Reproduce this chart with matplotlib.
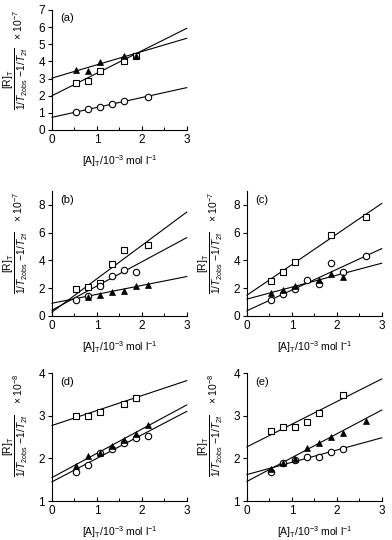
import matplotlib
matplotlib.use('Agg')
import matplotlib.pyplot as plt
import numpy as np
from matplotlib.ticker import MultipleLocator

plt.rcParams['font.family'] = ['Liberation Sans', 'DejaVu Sans']
plt.rcParams['mathtext.fontset'] = 'custom'
plt.rcParams['mathtext.rm'] = 'Liberation Sans'
plt.rcParams['mathtext.it'] = 'Liberation Sans:italic'
plt.rcParams['mathtext.bf'] = 'Liberation Sans:bold'

# ---------------- data ----------------
# panel (a)
a_sq_x = [0.53, 0.80, 1.07, 1.60, 1.87]
a_sq_y = [2.72, 2.86, 3.46, 4.05, 4.34]
a_tri_x = [0.53, 0.80, 1.07, 1.60, 1.87]
a_tri_y = [3.48, 3.44, 3.95, 4.32, 4.34]
a_cir_x = [0.53, 0.80, 1.07, 1.33, 1.60, 2.13]
a_cir_y = [1.03, 1.25, 1.34, 1.50, 1.71, 1.93]
a_intercepts = [2.00, 3.03, 0.74]   # square, triangle, circle
a_slopes = [1.31, 0.773, 0.577]

# panel (b)
b_sq_x = [0.53, 0.80, 1.07, 1.33, 1.60, 2.13]
b_sq_y = [1.92, 2.08, 2.38, 3.71, 4.78, 5.14]
b_tri_x = [0.80, 1.07, 1.33, 1.60, 1.87, 2.13]
b_tri_y = [1.38, 1.53, 1.75, 1.79, 2.18, 2.20]
b_cir_x = [0.53, 0.80, 1.07, 1.33, 1.60, 1.87]
b_cir_y = [1.16, 1.45, 2.13, 2.91, 3.32, 3.20]
b_intercepts = [0.28, 0.92, 0.42]
b_slopes = [2.40, 0.64, 1.74]

# panel (c)
c_sq_x = [0.53, 0.80, 1.07, 1.87, 2.66]
c_sq_y = [2.55, 3.15, 3.89, 5.85, 7.14]
c_tri_x = [0.53, 0.80, 1.07, 1.60, 1.87, 2.13]
c_tri_y = [1.69, 1.86, 2.15, 2.60, 3.00, 2.82]
c_cir_x = [0.53, 0.80, 1.07, 1.33, 1.60, 1.87, 2.13, 2.66]
c_cir_y = [1.15, 1.58, 1.91, 2.60, 2.29, 3.82, 3.20, 4.32]
c_intercepts = [1.50, 1.22, 0.38]
c_slopes = [2.20, 0.86, 1.49]

# panel (d)
d_sq_x = [0.53, 0.80, 1.07, 1.60, 1.87]
d_sq_y = [2.99, 2.99, 3.09, 3.28, 3.42]
d_tri_x = [0.53, 0.80, 1.07, 1.33, 1.60, 1.87, 2.13]
d_tri_y = [1.82, 2.05, 2.12, 2.29, 2.43, 2.56, 2.78]
d_cir_x = [0.53, 0.80, 1.07, 1.33, 1.60, 1.87, 2.13]
d_cir_y = [1.69, 1.85, 2.12, 2.22, 2.37, 2.48, 2.52]
d_intercepts = [2.77, 1.55, 1.45]
d_slopes = [0.35, 0.567, 0.55]

# panel (e)
e_sq_x = [0.53, 0.80, 1.07, 1.33, 1.60, 2.13]
e_sq_y = [2.63, 2.73, 2.73, 2.85, 3.07, 3.48]
e_tri_x = [0.53, 0.80, 1.07, 1.33, 1.60, 1.87, 2.13, 2.66]
e_tri_y = [1.74, 1.89, 1.98, 2.25, 2.35, 2.49, 2.59, 2.87]
e_cir_x = [0.53, 0.80, 1.07, 1.33, 1.60, 1.87, 2.13]
e_cir_y = [1.68, 1.89, 1.95, 2.04, 2.02, 2.14, 2.21]
e_intercepts = [2.27, 1.46, 1.62]
e_slopes = [0.53, 0.557, 0.287]

panel_labels = ['(a)', '(b)', '(c)', '(d)', '(e)']
exponents = [-7, -7, -7, -8, -8]
ylims = [(0, 7), (0, 9), (0, 9), (1, 4), (1, 4)]
yticks = [[0, 1, 2, 3, 4, 5, 6, 7], [0, 2, 4, 6, 8], [0, 2, 4, 6, 8],
          [1, 2, 3, 4], [1, 2, 3, 4]]
xticks = [0, 1, 2, 3]

# ---------------- layout ----------------
W, H = 392, 540
fig = plt.figure(figsize=(W / 100, H / 100), dpi=100)

def rect(left_px, right_px, bottom_px, top_px):
    return [left_px / W, 1 - bottom_px / H, (right_px - left_px) / W,
            (bottom_px - top_px) / H]

rects = [rect(52, 186.7, 130, 10),
         rect(52, 186.7, 316, 191),
         rect(247, 381.7, 316, 191),
         rect(52, 186.7, 501, 373),
         rect(247, 381.7, 501, 373)]

panels = [
    (a_sq_x, a_sq_y, a_tri_x, a_tri_y, a_cir_x, a_cir_y, a_intercepts, a_slopes),
    (b_sq_x, b_sq_y, b_tri_x, b_tri_y, b_cir_x, b_cir_y, b_intercepts, b_slopes),
    (c_sq_x, c_sq_y, c_tri_x, c_tri_y, c_cir_x, c_cir_y, c_intercepts, c_slopes),
    (d_sq_x, d_sq_y, d_tri_x, d_tri_y, d_cir_x, d_cir_y, d_intercepts, d_slopes),
    (e_sq_x, e_sq_y, e_tri_x, e_tri_y, e_cir_x, e_cir_y, e_intercepts, e_slopes),
]

fs = 7.5
ylabel = r'$\dfrac{[\mathrm{R}]_\mathrm{T}}{1/T_{2\mathrm{obs}}\ \mathrm{-}1/T_{2\mathrm{f}}}$'
xlabel = r'[A]$_\mathrm{T}$/10$^{-3}$ mol l$^{-1}$'

xfit = np.array([0.0, 3.0])
for i, (r, p) in enumerate(zip(rects, panels)):
    sqx, sqy, trx, try_, cix, ciy, icpt, slp = p
    ax = fig.add_axes(r)
    for b0, b1 in zip(icpt, slp):
        ax.plot(xfit, b0 + b1 * xfit, color='black', lw=0.8, zorder=2,
                clip_on=False)
    ax.plot(sqx, sqy, ls='none', marker='s', ms=4.6, mfc='white',
            mec='black', mew=0.8, zorder=3, clip_on=False)
    ax.plot(cix, ciy, ls='none', marker='o', ms=4.6, mfc='white',
            mec='black', mew=0.8, zorder=3, clip_on=False)
    ax.plot(trx, try_, ls='none', marker='^', ms=4.8, mfc='black',
            mec='black', mew=0.5, zorder=4, clip_on=False)
    ax.set_xlim(0, 3)
    ax.set_ylim(*ylims[i])
    ax.set_xticks(xticks)
    ax.set_yticks(yticks[i])
    ax.xaxis.set_minor_locator(MultipleLocator(0.5))
    for s in ['top', 'right']:
        ax.spines[s].set_visible(False)
    for s in ['left', 'bottom']:
        ax.spines[s].set_linewidth(0.8)
    ax.tick_params(axis='y', direction='out', length=3, width=0.8,
                   labelsize=fs + 1, pad=2)
    ax.tick_params(axis='x', which='major', direction='in', length=3,
                   width=0.8, labelsize=fs + 1, pad=3)
    ax.tick_params(axis='x', which='minor', direction='in', length=2,
                   width=0.7)
    ax.set_xlabel(xlabel, fontsize=fs, labelpad=5)
    ax.text(0.06, 0.93, panel_labels[i], transform=ax.transAxes,
            ha='left', va='center', fontsize=fs + 0.5)
    ax.text(-0.265, 0.43, ylabel, transform=ax.transAxes, rotation=90,
            ha='center', va='center', fontsize=7.4)
    ax.text(-0.255, 0.875, r'$\times$ 10$^{%d}$' % exponents[i],
            transform=ax.transAxes, rotation=90, ha='center', va='center',
            fontsize=fs)

fig.savefig('out.png', dpi=100)
